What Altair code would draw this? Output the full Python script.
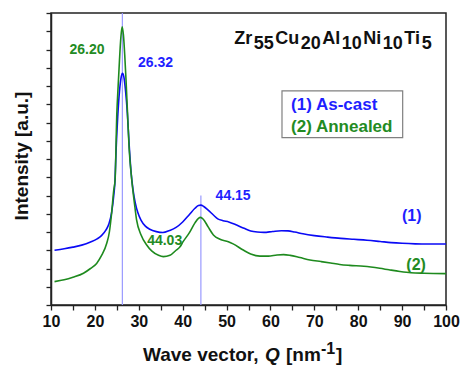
import altair as alt
import pandas as pd

FONT = "Liberation Sans, Arial, sans-serif"
BLUE_LINE = "#0a0af5"
BLUE_TXT = "#1f1fff"
GREEN_LINE = "#1e8a1e"
GREEN_TXT = "#238b23"
VLINE = "#9a9aff"

# (1) As-cast
blue_q = [10.8, 13, 15, 17, 19, 20.5, 21.5, 22.5, 23.2, 23.8, 24.3, 24.6, 24.8, 25.2, 25.6, 26.0, 26.3,
          26.6, 27.0, 27.4, 27.8, 28.2, 28.7, 29.2, 29.8, 30.5, 31.5, 32.5, 34, 35.5, 37, 38.5, 40,
          41.5, 42.8, 43.6, 44.15, 44.8, 45.8, 47, 48, 49.2, 50.5, 52.3, 54, 55.5, 57, 58.5, 60.5,
          62.5, 64, 65.5, 67.4, 70, 73, 76, 79, 82, 85, 87.5, 90, 93, 96, 100]
blue_v = [3.00, 3.08, 3.17, 3.28, 3.45, 3.62, 3.80, 4.10, 4.45, 5.05, 6.0, 6.9, 8.3, 10.3, 11.7, 12.5, 12.7,
          12.5, 11.7, 10.5, 8.8, 7.4, 6.3, 5.6, 5.05, 4.65, 4.32, 4.15, 4.02, 3.97, 4.08, 4.25, 4.55,
          4.95, 5.30, 5.45, 5.47, 5.40, 5.20, 4.93, 4.72, 4.62, 4.55, 4.38, 4.20, 4.06, 4.00, 3.98, 4.03,
          4.07, 4.06, 4.00, 3.90, 3.80, 3.72, 3.65, 3.60, 3.55, 3.48, 3.42, 3.38, 3.35, 3.34, 3.34]

# (2) Annealed
green_q = [10.8, 13, 15, 17.4, 19, 20.4, 21.5, 22.7, 23.3, 23.8, 24.3, 24.6, 25.0, 25.3, 25.6, 25.9, 26.2,
           26.5, 26.8, 27.1, 27.4, 27.8, 28.4, 29.0, 29.5, 30.5, 31.8, 33, 34.5, 35.6, 37.1, 38.5, 39.4,
           40.1, 41.5, 42.8, 43.6, 44.05, 44.7, 45.8, 47, 48.5, 50.4, 51.5, 53.8, 55.5, 57.6, 59.5,
           61.5, 63, 64.5, 66.7, 69, 71.5, 73.7, 75.8, 78, 81.3, 84.9, 87, 89.5, 92, 95, 100]
green_v = [1.28, 1.38, 1.52, 1.74, 2.00, 2.28, 2.70, 3.38, 4.00, 5.00, 6.30, 6.85, 10.5, 12.0, 13.4, 14.6, 15.25,
           14.8, 13.7, 12.3, 10.7, 8.6, 6.85, 5.6, 4.66, 3.85, 3.29, 2.95, 2.72, 2.65, 2.72, 3.00, 3.19,
           3.47, 3.95, 4.50, 4.75, 4.80, 4.70, 4.28, 3.84, 3.60, 3.47, 3.35, 3.01, 2.80, 2.68, 2.68,
           2.74, 2.76, 2.72, 2.60, 2.47, 2.38, 2.30, 2.22, 2.17, 2.12, 2.01, 1.93, 1.84, 1.77, 1.74, 1.72]

vline_q = [26.26, 44.15]
vline_top = [16, 6]

peak_text = ["26.20", "26.32", "44.15", "44.03"]
peak_q = [18.2, 33.8, 51.5, 35.9]
peak_v = [14.0, 13.26, 5.97, 3.51]
peak_col = [GREEN_TXT, BLUE_TXT, BLUE_TXT, GREEN_TXT]

curve_text = ["(1)", "(2)"]
curve_q = [92.2, 93.2]
curve_v = [4.88, 2.19]
curve_col = [BLUE_TXT, GREEN_TXT]

legend_text = ["(1) As-cast", "(2) Annealed"]
legend_q = [64.7, 64.7]
legend_v = [10.96, 9.75]
legend_col = [BLUE_TXT, GREEN_TXT]
legend_box = {"q": [62.63], "q2": [90.13], "v": [9.17], "v2": [11.73]}

# title Zr55Cu20Al10Ni10Ti5: pieces, subscript flag
title_pieces = ["Zr", "55", "Cu", "20", "Al", "10", "Ni", "10", "Ti", "5"]
title_sub = [0, 1, 0, 1, 0, 1, 0, 1, 0, 1]

x_ticks = list(range(10, 101, 5))
y_ticks = list(range(0, 17))

# --- layout helpers for the piecewise title (Arial-metric advance widths, em) ---
ADV = {"Z": .611, "r": .389, "C": .722, "u": .611, "A": .722, "l": .278, "N": .722,
       "i": .278, "T": .611}
TSIZE = 18
GAP = 1.5
PX_PER_Q = 395 / 90.0
widths = [sum(ADV.get(ch, .556) for ch in p) * TSIZE for p in title_pieces]
total = sum(widths) + GAP * (len(widths) - 1)
start_px = 333 - 51 - total / 2.0  # relative to plot left
title_q = []
cur = start_px
for w in widths:
    title_q.append(10 + cur / PX_PER_Q)
    cur += w + GAP

xs = alt.Scale(domain=[10, 100], nice=False, zero=False)
ys = alt.Scale(domain=[0, 16], nice=False)

X = alt.X("q:Q", scale=xs, axis=alt.Axis(
    values=x_ticks, labelExpr="datum.value % 10 == 0 ? datum.label : ''",
    title=None, grid=False, tickSize=5, tickWidth=1.3, tickColor="#222",
    domainColor="#222", domainWidth=1.5, labelFont=FONT, labelFontSize=16,
    labelFontWeight="bold", labelColor="#111", labelPadding=3,
    labelFlush=False, labelOverlap=False))
Y = alt.Y("v:Q", scale=ys, axis=alt.Axis(
    values=y_ticks, labels=False, title=None, grid=False, tickSize=5,
    tickWidth=1.3, tickColor="#222", domainColor="#222", domainWidth=1.5))

df_vl = pd.DataFrame({"q": vline_q, "v": [0, 0], "v2": vline_top})
vlines = alt.Chart(df_vl).mark_rule(color=VLINE, strokeWidth=1.2).encode(
    x=X, y=Y, y2="v2:Q")

df_curves = pd.concat([
    pd.DataFrame({"q": blue_q, "v": blue_v, "s": "As-cast"}),
    pd.DataFrame({"q": green_q, "v": green_v, "s": "Annealed"}),
])
curves = alt.Chart(df_curves).mark_line(strokeWidth=1.6, interpolate="monotone").encode(
    x=X, y=Y,
    color=alt.Color("s:N", scale=alt.Scale(domain=["As-cast", "Annealed"],
                                            range=[BLUE_LINE, GREEN_LINE]), legend=None),
    detail="s:N")

df_peak = pd.DataFrame({"q": peak_q, "v": peak_v, "t": peak_text, "c": peak_col})
peaks = alt.Chart(df_peak).mark_text(font=FONT, fontSize=14, fontWeight="bold",
                                     align="center", baseline="middle").encode(
    x=X, y=Y, text="t:N", color=alt.Color("c:N", scale=None))

df_ct = pd.DataFrame({"q": curve_q, "v": curve_v, "t": curve_text, "c": curve_col})
ctext = alt.Chart(df_ct).mark_text(font=FONT, fontSize=16, fontWeight="bold",
                                   align="center", baseline="middle").encode(
    x=X, y=Y, text="t:N", color=alt.Color("c:N", scale=None))

box = alt.Chart(pd.DataFrame(legend_box)).mark_rect(
    fill="white", stroke="#808080", strokeWidth=1.2).encode(
    x=X, x2="q2:Q", y=Y, y2="v2:Q")

df_lg = pd.DataFrame({"q": legend_q, "v": legend_v, "t": legend_text, "c": legend_col})
lgtext = alt.Chart(df_lg).mark_text(font=FONT, fontSize=17, fontWeight="bold",
                                    align="left", baseline="middle").encode(
    x=X, y=Y, text="t:N", color=alt.Color("c:N", scale=None))

df_title = pd.DataFrame({"q": title_q, "t": title_pieces,
                         "v": [14.04 if s else 14.32 for s in title_sub]})
title = alt.Chart(df_title).mark_text(font=FONT, fontSize=TSIZE, fontWeight="bold",
                                      align="left", baseline="alphabetic", color="#111").encode(
    x=X, y=Y, text="t:N")

one = pd.DataFrame({"a": [0]})


def label(txt, px, py, size=19, **kw):
    return alt.Chart(one).mark_text(text=txt, font=FONT, fontSize=size, fontWeight="bold",
                                    baseline="alphabetic", color="#111", **kw).encode(
        x=alt.value(px), y=alt.value(py))


xt1 = label("Wave vector,", 92, 348, align="left")
xt2 = label("Q", 214, 348, align="left", fontStyle="italic")
xt3 = label("[nm", 235, 348, align="left")
xt4 = label("-1", 270, 341, size=16, align="left")
xt5 = label("]", 285, 348, align="left")
yt = label("Intensity [a.u.]", -23, 143, align="center", angle=270)

chart = alt.layer(vlines, curves, peaks, ctext, box, lgtext, title,
                  xt1, xt2, xt3, xt4, xt5, yt).properties(
    width=395, height=292, autosize=alt.AutoSizeParams(type="none"),
    padding={"left": 51, "top": 13, "right": 16, "bottom": 62},
    background="white",
).configure_view(stroke="#222", strokeWidth=1.5)

chart.save("out.html", embed_options={"renderer": "svg", "actions": False})
